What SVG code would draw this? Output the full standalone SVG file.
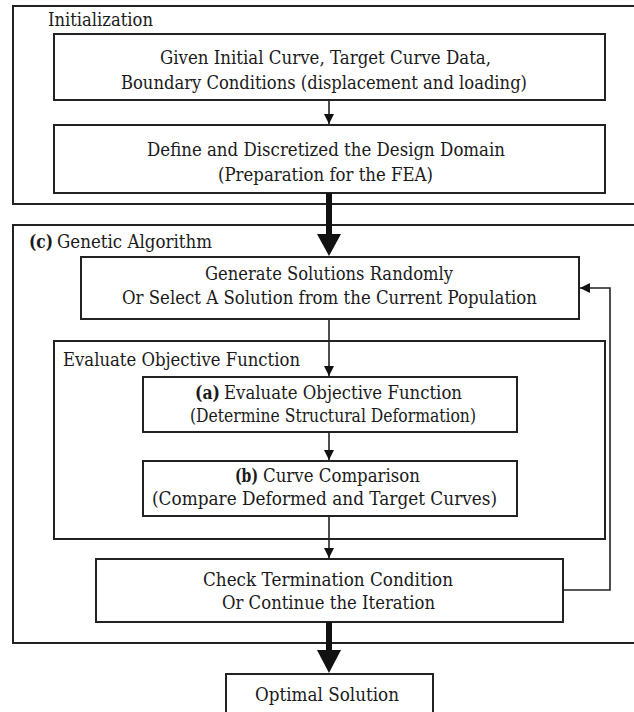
<svg xmlns="http://www.w3.org/2000/svg" width="634" height="712" viewBox="0 0 634 712">
  <style>
    .frame { fill: none; stroke: #222; stroke-width: 2; }
    .box { fill: #fff; stroke: #222; stroke-width: 2; }
    .t { font-family: "DejaVu Serif", "Liberation Serif", "Times New Roman", serif; font-size: 18px; fill: #1a1a1a; }
    .c { text-anchor: middle; }
    .b { font-weight: bold; }
    .thin { fill: none; stroke: #222; stroke-width: 1.6; }
    .thick { fill: none; stroke: #111; stroke-width: 6; }
  </style>
  <defs>
    <!-- small filled triangle, drawn pointing along +x so orient="auto" follows the line -->
    <marker id="head" markerWidth="10" markerHeight="10" refX="10" refY="5" orient="auto" markerUnits="userSpaceOnUse" viewBox="0 0 10 10">
      <path d="M0,0 L10,5 L0,10 Z" fill="#111"/>
    </marker>
  </defs>

  <rect width="634" height="712" fill="#fff"/>

  <!-- Initialization frame -->
  <g id="initialization">
    <path class="frame" d="M640,6 H13 V204 H640"/>
    <text class="t" x="48" y="26" textLength="105" lengthAdjust="spacingAndGlyphs">Initialization</text>
  </g>

  <g id="given-data">
    <rect class="box" x="54" y="34" width="551" height="66"/>
    <text class="t c" x="325.5" y="64" textLength="331" lengthAdjust="spacingAndGlyphs">Given Initial Curve, Target Curve Data,</text>
    <text class="t c" x="324" y="89" textLength="406" lengthAdjust="spacingAndGlyphs">Boundary Conditions (displacement and loading)</text>
  </g>

  <g id="design-domain">
    <rect class="box" x="54" y="125" width="551" height="68"/>
    <text class="t c" x="326" y="156" textLength="358" lengthAdjust="spacingAndGlyphs">Define and Discretized the Design Domain</text>
    <text class="t c" x="325.5" y="181" textLength="215" lengthAdjust="spacingAndGlyphs">(Preparation for the FEA)</text>
  </g>

  <!-- Genetic algorithm frame -->
  <g id="genetic-algorithm">
    <path class="frame" d="M640,225 H13 V643 H640"/>
    <text class="t b" x="29" y="248" textLength="24" lengthAdjust="spacingAndGlyphs">(c)</text>
    <text class="t" x="57" y="248" textLength="155" lengthAdjust="spacingAndGlyphs">Genetic Algorithm</text>
  </g>

  <g id="generate">
    <rect class="box" x="81" y="257" width="498" height="62"/>
    <text class="t c" x="329" y="280" textLength="248" lengthAdjust="spacingAndGlyphs">Generate Solutions Randomly</text>
    <text class="t c" x="329.5" y="304" textLength="415" lengthAdjust="spacingAndGlyphs">Or Select A Solution from the Current Population</text>
  </g>

  <g id="evaluate-group">
    <rect class="frame" x="54" y="341" width="551" height="198"/>
    <text class="t" x="63" y="366" textLength="237" lengthAdjust="spacingAndGlyphs">Evaluate Objective Function</text>
  </g>

  <g id="evaluate">
    <rect class="box" x="143" y="377" width="374" height="55"/>
    <text class="t b" x="195" y="399" textLength="25" lengthAdjust="spacingAndGlyphs">(a)</text>
    <text class="t" x="224" y="399" textLength="238" lengthAdjust="spacingAndGlyphs">Evaluate Objective Function</text>
    <text class="t c" x="333" y="422" textLength="286" lengthAdjust="spacingAndGlyphs">(Determine Structural Deformation)</text>
  </g>

  <g id="compare">
    <rect class="box" x="143" y="461" width="374" height="55"/>
    <text class="t b" x="235" y="482" textLength="23" lengthAdjust="spacingAndGlyphs">(b)</text>
    <text class="t" x="263" y="482" textLength="157" lengthAdjust="spacingAndGlyphs">Curve Comparison</text>
    <text class="t c" x="324.5" y="505" textLength="345" lengthAdjust="spacingAndGlyphs">(Compare Deformed and Target Curves)</text>
  </g>

  <g id="check">
    <rect class="box" x="96" y="559" width="467" height="63"/>
    <text class="t c" x="328" y="586" textLength="250" lengthAdjust="spacingAndGlyphs">Check Termination Condition</text>
    <text class="t c" x="328.5" y="609" textLength="213" lengthAdjust="spacingAndGlyphs">Or Continue the Iteration</text>
  </g>

  <g id="optimal">
    <rect class="box" x="226" y="674" width="207" height="44"/>
    <text class="t c" x="327" y="701" textLength="144" lengthAdjust="spacingAndGlyphs">Optimal Solution</text>
  </g>

  <!-- Connectors -->
  <g id="connectors">
    <path class="thin" d="M329,100 V124" marker-end="url(#head)"/>
    <path class="thin" d="M329,319 V376" marker-end="url(#head)"/>
    <path class="thin" d="M329,432 V460" marker-end="url(#head)"/>
    <path class="thin" d="M329,516 V558" marker-end="url(#head)"/>
    <path class="thin" d="M563,590 H610 V288 H580" marker-end="url(#head)"/>
    <!-- thick transitions between stages -->
    <path class="thick" d="M329,193 V236"/>
    <path d="M317,234 H341 L329,256 Z" fill="#111"/>
    <path class="thick" d="M329,622 V652"/>
    <path d="M317,650 H341 L329,673 Z" fill="#111"/>
  </g>
</svg>
